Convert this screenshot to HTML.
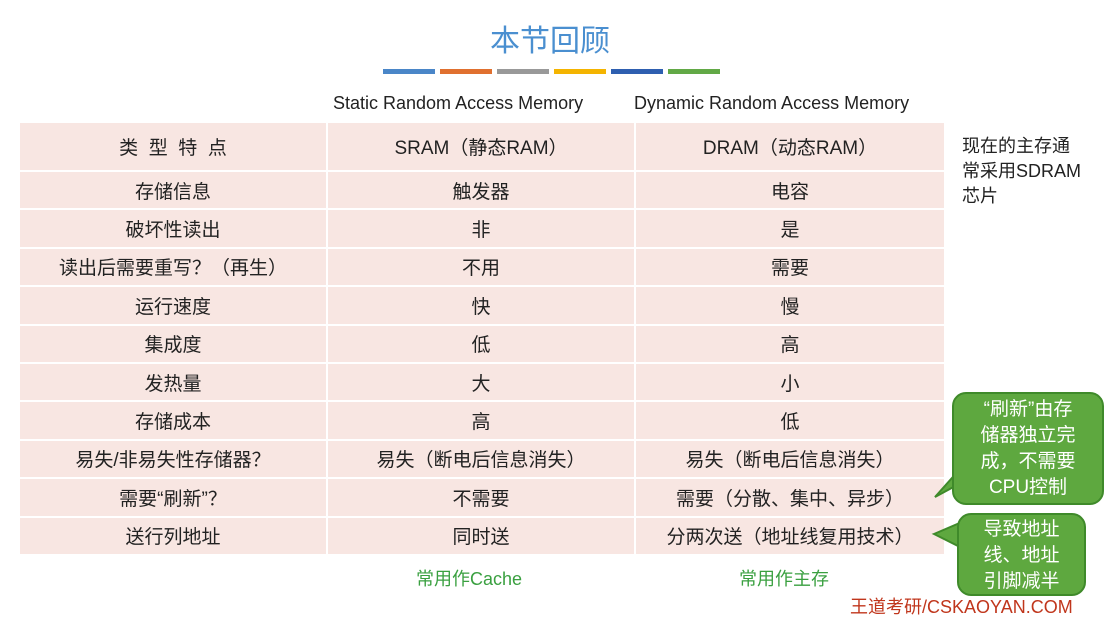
<!DOCTYPE html>
<html><head><meta charset="utf-8"><style>
body{margin:0;width:1106px;height:617px;background:#fff;position:relative;overflow:hidden;font-family:"Liberation Sans","Noto Sans CJK SC",sans-serif;}
.t{position:absolute;white-space:nowrap}
table{position:absolute;left:18px;top:121px;border-collapse:collapse;background:#f8e6e2;table-layout:fixed}
td{border:2px solid #fff;text-align:center;font-size:19px;color:#222;padding:0;height:36.5px;box-sizing:border-box}
tr{height:38.4px}
tr:first-child{height:49px}
tr:first-child td{height:49px}
.bar{position:absolute;top:69px;height:5px;width:52px}
.box{position:absolute;background:#5ea83f;border:2px solid #3f8a2a;border-radius:14px;color:#fff;font-size:19px;text-align:center;line-height:26px}
</style></head><body>
<div class="t" style="left:490px;top:16px;font-size:30px;color:#4a8fd0">本节回顾</div>
<div class="bar" style="left:383px;background:#4a86c8"></div>
<div class="bar" style="left:440px;background:#e0702f"></div>
<div class="bar" style="left:497px;background:#999"></div>
<div class="bar" style="left:554px;background:#f4b400"></div>
<div class="bar" style="left:611px;background:#2e5fb0"></div>
<div class="bar" style="left:668px;background:#62a946"></div>
<div class="t" style="left:333px;top:93px;font-size:18px;color:#222">Static Random Access Memory</div>
<div class="t" style="left:634px;top:93px;font-size:18px;color:#222">Dynamic Random Access Memory</div>
<table>
<colgroup><col style="width:308px"><col style="width:308px"><col style="width:310px"></colgroup>
<tr><td>类 &nbsp;型 &nbsp;特 &nbsp;点</td><td>SRAM（静态RAM）</td><td>DRAM（动态RAM）</td></tr>
<tr><td>存储信息</td><td>触发器</td><td>电容</td></tr>
<tr><td>破坏性读出</td><td>非</td><td>是</td></tr>
<tr><td>读出后需要重写？（再生）</td><td>不用</td><td>需要</td></tr>
<tr><td>运行速度</td><td>快</td><td>慢</td></tr>
<tr><td>集成度</td><td>低</td><td>高</td></tr>
<tr><td>发热量</td><td>大</td><td>小</td></tr>
<tr><td>存储成本</td><td>高</td><td>低</td></tr>
<tr><td>易失/非易失性存储器？</td><td>易失（断电后信息消失）</td><td>易失（断电后信息消失）</td></tr>
<tr><td>需要“刷新”？</td><td>不需要</td><td>需要（分散、集中、异步）</td></tr>
<tr><td>送行列地址</td><td>同时送</td><td>分两次送（地址线复用技术）</td></tr>
</table>
<div class="t" style="left:416px;top:565px;font-size:18px;color:#3aa040">常用作Cache</div>
<div class="t" style="left:739px;top:565px;font-size:18px;color:#3aa040">常用作主存</div>
<div class="t" style="left:962px;top:134px;font-size:18px;line-height:25px;color:#222">现在的主存通<br>常采用SDRAM<br>芯片</div>
<svg style="position:absolute;left:0;top:0" width="1106" height="617">
<polygon points="935,497 968,460 985,470" fill="#5ea83f" stroke="#3f8a2a" stroke-width="2"/>
<polygon points="934,534 962,522 962,548" fill="#5ea83f" stroke="#3f8a2a" stroke-width="2"/>
</svg>
<div class="box" style="left:952px;top:392px;width:148px;height:106px;padding-top:3px">“刷新”由存<br>储器独立完<br>成，不需要<br>CPU控制</div>
<div class="box" style="left:957px;top:513px;width:125px;height:77px;padding-top:2px">导致地址<br>线、地址<br>引脚减半</div>
<div class="t" style="left:850px;top:593px;font-size:18px;color:#c0361c">王道考研/CSKAOYAN.COM</div>
</body></html>
